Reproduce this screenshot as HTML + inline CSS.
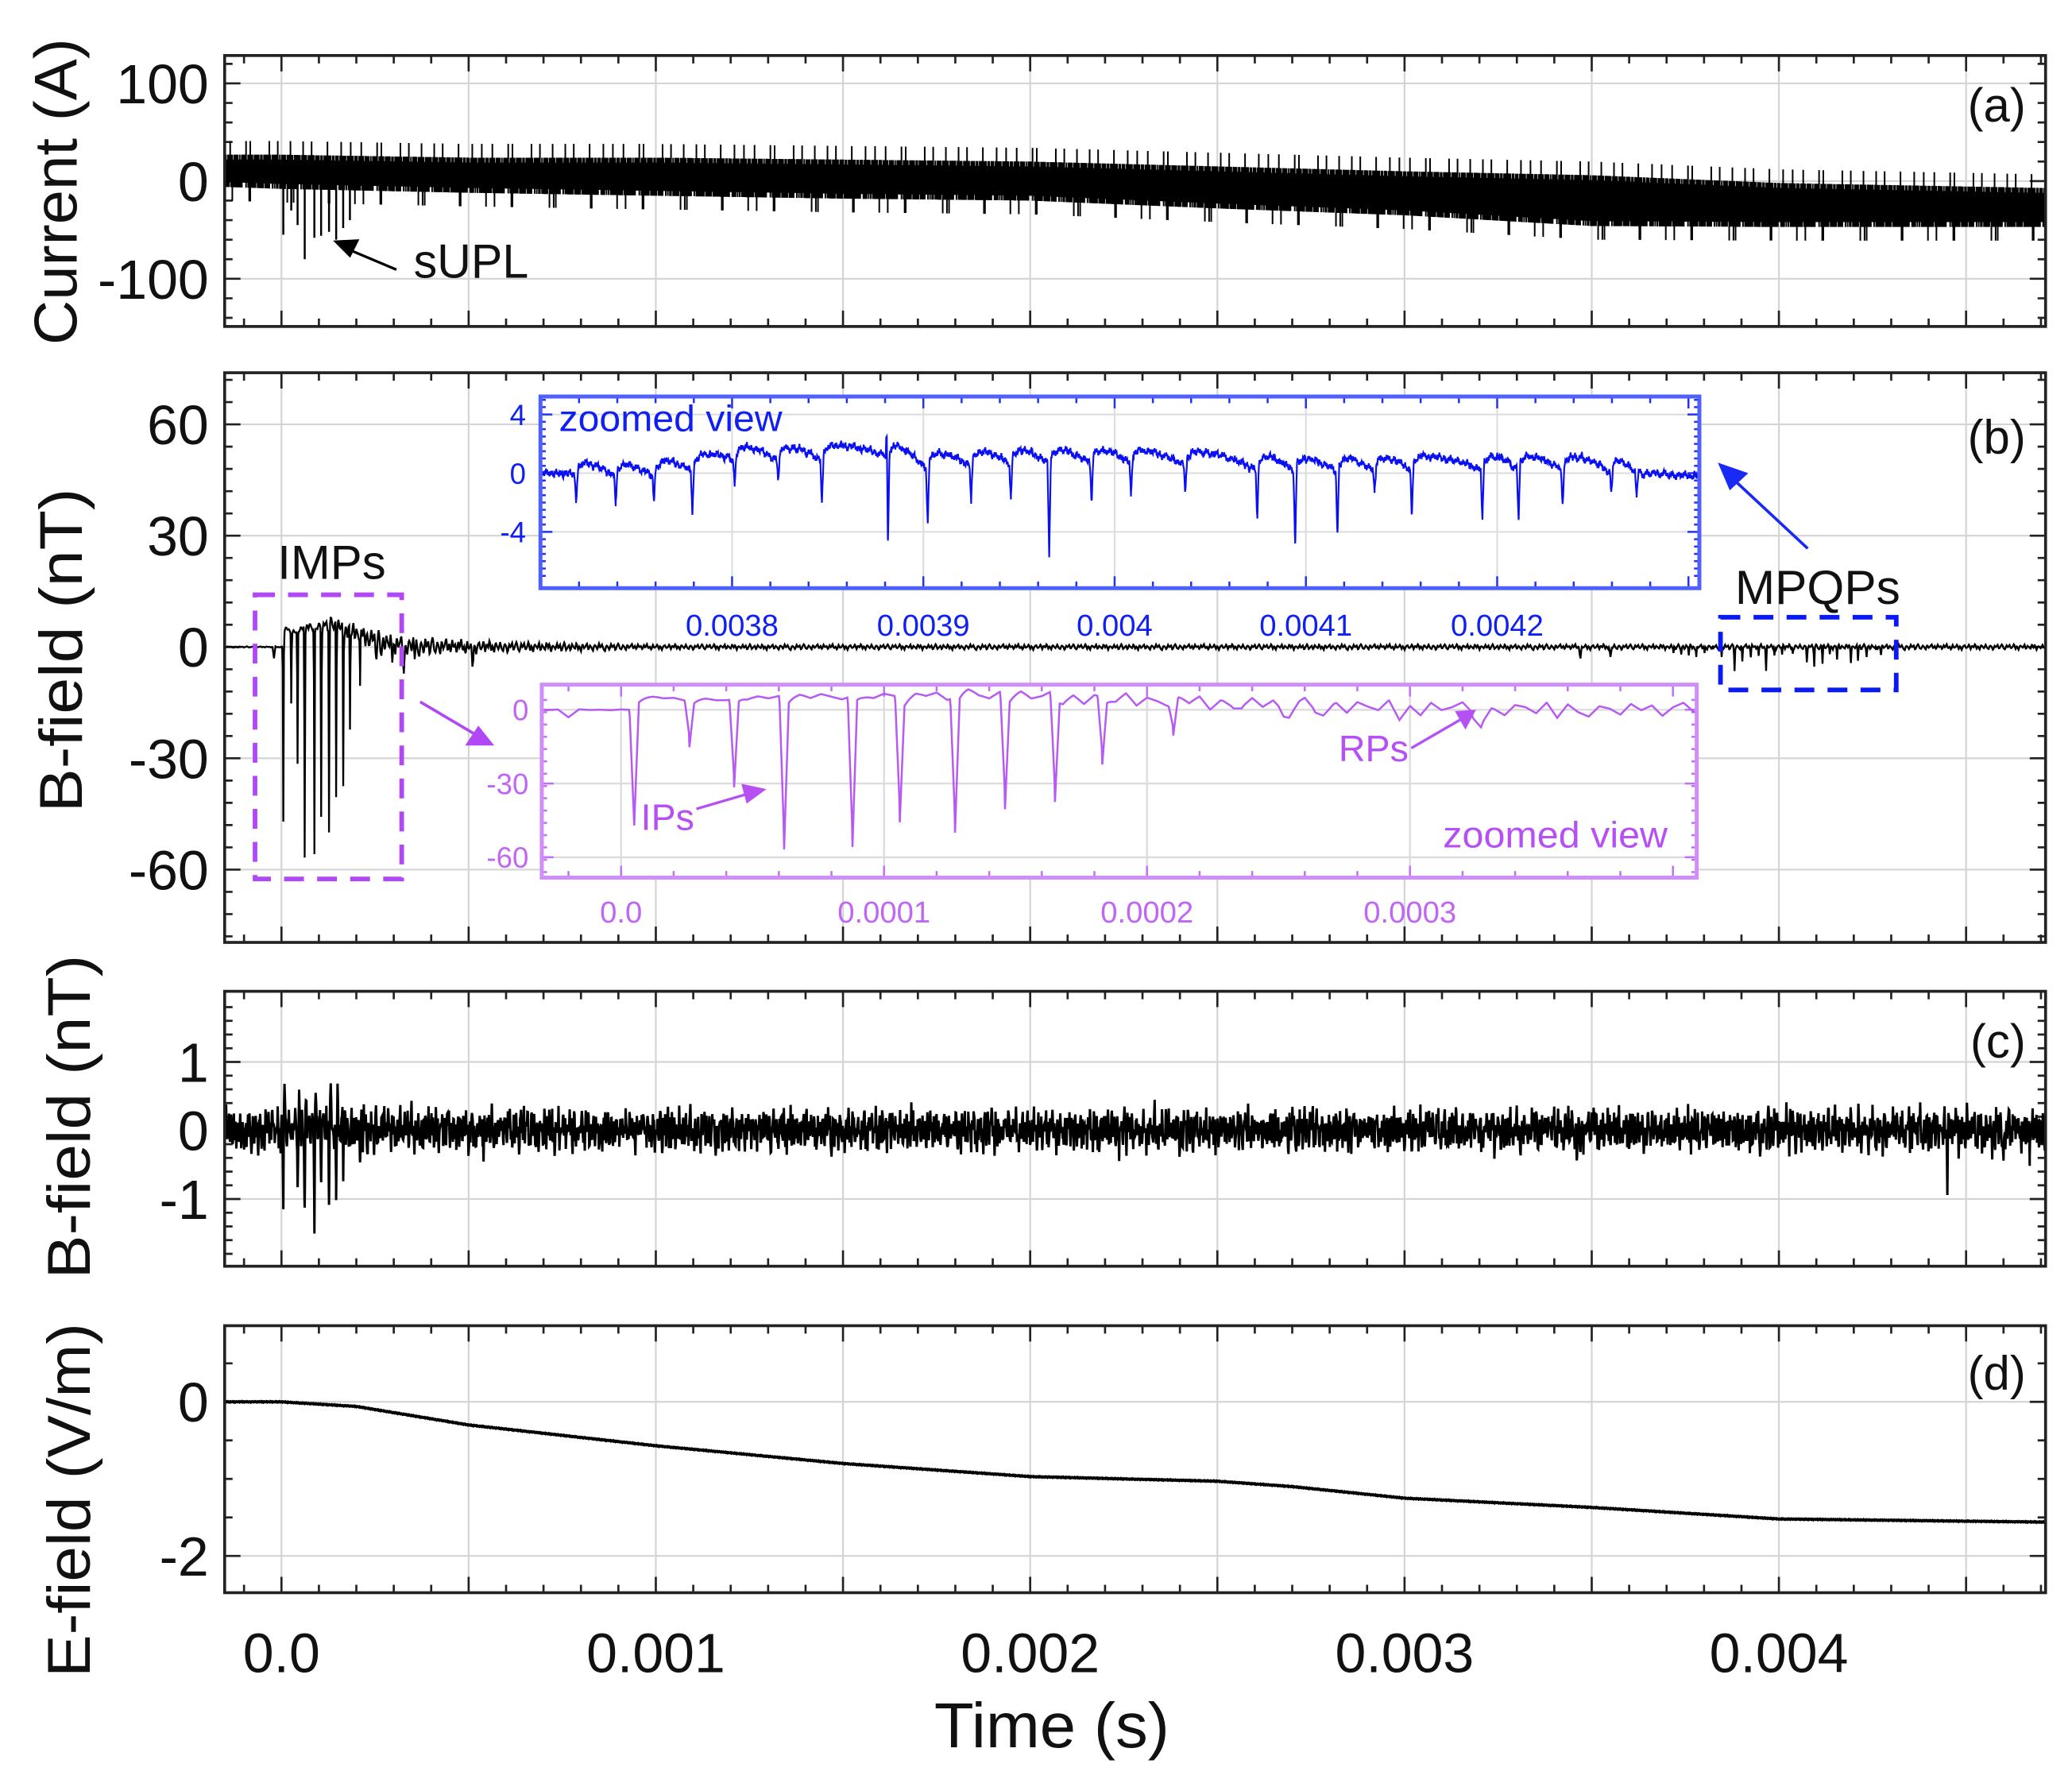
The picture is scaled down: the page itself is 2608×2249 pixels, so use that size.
<!DOCTYPE html>
<html><head><meta charset="utf-8">
<style>
html,body{margin:0;padding:0;background:#fff;}
svg{display:block;}
text{font-family:"Liberation Sans",Arial,sans-serif;}
</style></head>
<body>
<svg id="fig" xmlns="http://www.w3.org/2000/svg" width="2608" height="2249" viewBox="0 0 1568 1352" preserveAspectRatio="none"></svg>
<script>
// ---------------- DATA ----------------
const xTickVals = [0.0, 0.001, 0.002, 0.003, 0.004];
const xTickLabels = ["0.0", "0.001", "0.002", "0.003", "0.004"];
// panel (a) current: core band envelope
const curT  = [-0.00015, 0, 0.0005, 0.001, 0.0015, 0.002, 0.0025, 0.003, 0.0035, 0.004, 0.0047];
const curHi = [27, 27, 24, 24, 22, 20, 15, 10, 6, -2, -7];
const curLo = [-6, -8, -12, -15, -18, -20, -28, -35, -46, -47, -47];
const supT = [0.000005, 0.000026, 0.000043, 0.000062, 0.000088, 0.000106, 0.000127, 0.000146, 0.000165, 0.000183];
const supV = [-55, -30, -45, -80, -58, -56, -52, -60, -48, -40];
// IMP pulses (b) & purple inset
const impT = [0.000005, 0.000026, 0.000043, 0.000062, 0.000088, 0.000106, 0.000127, 0.000146, 0.000165, 0.000183, 0.00021];
const impV = [-47, -15, -32, -57, -57, -45, -50, -41, -39, -23, -11];
const impHump = [6, 5, 6, 7, 7, 7, 8, 7, 6, 5, 4];
// return pulses / small dips
const rpT = [-0.00002, 0.000233, 0.000254, 0.000267, 0.000296, 0.000327, 0.000356, 0.00051, 0.00347, 0.00355];
const rpV = [-3, -2, -4, -3, -3.5, -8, -3, -5.5, -3, -3];
const ringT = [-0.0002, 0, 0.00021, 0.0004, 0.0006, 0.001, 0.0047];
const ringA = [0.2, 0.2, 3.5, 3, 1.8, 0.9, 0.9];
// MPQPs (blue inset)
const blueT = [0.0037185, 0.0037392, 0.0037592, 0.0037793, 0.0038014, 0.0038242, 0.003847, 0.0038815, 0.0039023, 0.003925, 0.0039458, 0.0039658, 0.003988, 0.0040086, 0.004037, 0.0040746, 0.0040944, 0.0041165, 0.0041359, 0.0041554, 0.0041923, 0.0042112, 0.0042343, 0.0042597, 0.0042729];
const blueV = [-1.8, -1.8, -2, -3, -1.8, -1.3, -2.8, -6.1, -4, -2.5, -2.6, -6.3, -2.6, -2.1, -1.8, -3.6, -5.2, -4.5, -1.4, -3.2, -3.6, -3.6, -2.4, -1.5, -1.6];
const blueUpT = [0.0038815];
const blueUpV = [3.4];
const blueBaseT = [0.0037, 0.00375, 0.00378, 0.0038, 0.00385, 0.00388, 0.0039, 0.00395, 0.004, 0.00405, 0.0041, 0.00415, 0.0042, 0.00425, 0.0043];
const blueBaseV = [0, -0.2, 0.3, 1.0, 1.0, 1.3, 0.5, 0.8, 0.8, 0.6, 0.2, 0.3, 0.4, 0.3, -0.2];
// panel (c)
const cImpV = [-1.09, -0.3, -0.79, -1.3, -1.26, -0.6, -1.23, -0.83, -0.4, -0.3, -0.2];
const cDipT = [0.00346, 0.00371, 0.00445, 0.0046, 0.00467];
const cDipV = [-0.6, -0.5, -0.55, -0.65, -0.6];
// panel (d) E-field
const eT = [-0.00015, 0, 0.0002, 0.0005, 0.001, 0.0015, 0.002, 0.0025, 0.0027, 0.003, 0.0035, 0.004, 0.0047];
const eV = [0, 0, -0.06, -0.3, -0.57, -0.8, -0.97, -1.03, -1.1, -1.25, -1.37, -1.52, -1.56];
// measured noise samples
const noise = [0.31,-0.72,0.55,-0.18,0.9,-0.44,0.12,-0.85,0.67,-0.29,0.04,0.78,-0.61,0.35,-0.93,0.22,0.58,-0.37,-0.05,0.81,-0.69,0.43,-0.14,0.96,-0.52,0.27,-0.8,0.63,0.09,-0.41,0.74,-0.23,-0.66,0.48,0.15,-0.97,0.39,-0.08,0.71,-0.56,0.2,0.86,-0.34,-0.75,0.53,-0.11,0.66,-0.47,0.01,0.92,-0.63,0.3,-0.88,0.45,0.17,-0.26,0.79,-0.7,0.36,-0.02,-0.54,0.84,-0.19,0.61,-0.9,0.25,0.07,-0.45,0.69,-0.32,0.5,-0.83,0.13,0.94,-0.6,-0.16,0.41,-0.77,0.57,0.03,-0.38,0.88,-0.5,0.21,-0.95,0.64,-0.27,0.11,0.76,-0.64,0.33,-0.07,-0.86,0.47,0.19,-0.58,0.82,-0.21,0.6,-0.42,-0.99,0.38,0.06,-0.73,0.7,-0.13,0.52,-0.88,0.28,0.91,-0.35,-0.59,0.44,0.02,-0.79,0.62,-0.24,0.16,0.85,-0.48,0.34,-0.66,0.73,-0.1];

// ---------------- HELPERS ----------------
const NS = "http://www.w3.org/2000/svg";
const svg = document.getElementById("fig");
function mk(tag, parent) { const e = document.createElementNS(NS, tag); (parent || svg).appendChild(e); return e; }
function A(e, k, v) { e.setAttribute(k, v); return e; }
const N = noise.length;
function nz(i) { i = Math.abs(Math.floor(i)); return noise[i % N]; }
function nz2(i) { i = Math.abs(Math.floor(i)); return noise[(i * 37 + 11) % N]; }
function smooth(t, step) { const u = t / step + 1000; const k = Math.floor(u); const f = u - k; return nz(k) * (1 - f) + nz(k + 1) * f; }
function interp(xs, ys, x) {
  if (x <= xs[0]) return ys[0];
  for (let i = 1; i < xs.length; i++) if (x <= xs[i]) { const f = (x - xs[i-1]) / (xs[i] - xs[i-1]); return ys[i-1] + f * (ys[i] - ys[i-1]); }
  return ys[ys.length - 1];
}
const X0 = 170, X1 = 1548;
function xs(t) { return 213 + t * 283300; }
const tMin = (X0 - 213) / 283300, tMax = (X1 - 213) / 283300;
const PA = { y0: 42, y1: 247, y: v => 137 - v * 0.739 };
const PB = { y0: 282, y1: 713, y: v => 489.5 - v * 2.807 };
const PC = { y0: 750, y1: 958, y: v => 855.3 - v * 51.85 };
const PD = { y0: 1003, y1: 1205, y: v => 1060.6 - v * 58.3 };
function tri(dt, w) { const a = Math.abs(dt); return a < w ? 1 - a / w : 0; }

// ------------- axes frame / grid / ticks -------------
function panelFrame(P, name, yGrid, yMinor, yMajor) {
  const g = mk("g"); 
  
  
  let d = "";
  for (let t = 0; t <= tMax + 1e-9; t += 0.0005) d += `M${xs(t)},${P.y0}V${P.y1}`;
  yGrid.forEach(v => { d += `M${X0},${P.y(v)}H${X1}`; });
  const grid = A(A(A(A(mk("path", g), "d", d), "stroke", "#d4d4d4"), "stroke-width", 1.3), "fill", "none");
  
  
  let tk = "";
  for (let k = -1; k <= 47; k++) {
    const t = k * 0.0001; if (t < tMin || t > tMax) continue;
    const len = (k % 5 === 0) ? 12 : 6;
    tk += `M${xs(t)},${P.y1}v${-len}M${xs(t)},${P.y0}v${len}`;
  }
  yMinor.forEach(v => { tk += `M${X0},${P.y(v)}h6M${X1},${P.y(v)}h-6`; });
  yMajor.forEach(v => { tk += `M${X0},${P.y(v)}h12M${X1},${P.y(v)}h-12`; });
  const ticks = A(A(A(A(mk("path", g), "d", tk), "stroke", "#222"), "stroke-width", 1.6), "fill", "none");
  
  
  return g;
}
function frameBox(P, name) {
  const r = mk("rect");
  A(r, "x", X0); A(r, "y", P.y0); A(r, "width", X1 - X0); A(r, "height", P.y1 - P.y0);
  A(r, "fill", "none"); A(r, "stroke", "#222"); A(r, "stroke-width", 2.2);
  
  
}
function range(a, b, s) { const r = []; for (let v = a; v <= b + 1e-9; v += s) r.push(+v.toFixed(6)); return r; }
function txt(x, y, s, size, opts) {
  const e = mk("text", opts && opts.parent);
  A(e, "x", x); A(e, "y", y); A(e, "font-size", size);
  A(e, "fill", (opts && opts.fill) || "#111");
  if (opts && opts.anchor) A(e, "text-anchor", opts.anchor);
  if (opts && opts.rot) A(e, "transform", `rotate(-90 ${x} ${y})`);
  if (opts && opts.len) { A(e, "textLength", opts.len); A(e, "lengthAdjust", "spacingAndGlyphs"); }
  e.textContent = s; return e;
}
function pathFrom(pts) { let d = ""; pts.forEach((p, i) => { d += (i ? "L" : "M") + p[0].toFixed(2) + "," + p[1].toFixed(2); }); return d; }

// ---------------- PANEL A ----------------
panelFrame(PA, "current-panel", [100, 0, -100], range(-140, 120, 20), [100, 0, -100]);
{
  let d = "";
  let i = 0;
  for (let x = X0 + 1; x < X1; x += 0.8, i++) {
    const t = (x - 213) / 283300;
    let hi = interp(curT, curHi, t), lo = interp(curT, curLo, t);
    const a = nz(i), b = nz2(i);
    if (a > 0.8) hi += 14; else if (a < -0.6) hi -= 5;
    if (b > 0.82) lo -= 14; else if (b < -0.6) lo += 5;
    d += `M${x.toFixed(1)},${PA.y(hi).toFixed(1)}V${PA.y(lo).toFixed(1)}`;
  }
  const band = A(A(A(A(mk("path"), "d", d), "stroke", "#000"), "stroke-width", 1.2), "fill", "none");
  
  
  let s = "";
  supT.forEach((t, k) => { s += `M${xs(t).toFixed(1)},${PA.y(0)}V${PA.y(supV[k]).toFixed(1)}`; });
  const sp = A(A(A(A(mk("path"), "d", s), "stroke", "#000"), "stroke-width", 1.5), "fill", "none");
  
  
}
frameBox(PA, "current-panel");
[[100, "100"], [0, "0"], [-100, "-100"]].forEach(([v, s]) => {
  const e = txt(158, PA.y(v) + 15, s, 42, { anchor: "end" });
  
  
});
{
  const e = txt(58, 145, "Current (A)", 46, { anchor: "middle", rot: true, len: 232 });
  
  
  const l = txt(1533, 92, "(a)", 36, { anchor: "end" });
  
  
  const su = txt(313, 210, "sUPL", 36, { len: 87 });
  
  
  const ar = A(A(A(mk("path"), "d", "M300,204L262,188"), "stroke", "#000"), "stroke-width", 2);
  
  
  const ah = A(A(mk("path"), "d", "M252,182L272,181L265,195Z"), "fill", "#000");
  
  
}

// ---------------- signals ----------------
function bSignal(t, withBlue) {
  let v = 0;
  for (let i = 0; i < impT.length; i++) {
    const dt = t - impT[i];
    v += impV[i] * tri(dt, 1.8e-6);
    const next = i + 1 < impT.length ? impT[i + 1] : 1;
    if (dt > 0 && t < next) v += impHump[i] * (1 - Math.exp(-dt / 2.5e-6)) * Math.exp(-dt / 6e-5);
  }
  for (let i = 0; i < rpT.length; i++) v += rpV[i] * tri(t - rpT[i], 4e-6);
  v += interp(ringT, ringA, t) * smooth(t, 4e-6);
  if (withBlue) for (let i = 0; i < blueT.length; i++) v += blueV[i] * tri(t - blueT[i], 2e-6);
  return v;
}
function blueSignal(t, i) {
  let v = interp(blueBaseT, blueBaseV, t);
  let prev = null, next = null;
  for (let k = 0; k < blueT.length; k++) { if (blueT[k] <= t) prev = blueT[k]; else { next = blueT[k]; break; } }
  if (prev !== null && next !== null) {
    const dt = t - prev, f = dt / (next - prev);
    v += 0.9 * (1 - Math.exp(-dt / 2e-6)) - 1.1 * f * f;
  }
  for (let k = 0; k < blueT.length; k++) v += blueV[k] * tri(t - blueT[k], 0.9e-6);
  for (let k = 0; k < blueUpT.length; k++) v += blueUpV[k] * tri(t - blueUpT[k] + 0.6e-6, 0.5e-6);
  v += 0.22 * nz(i) + 0.25 * smooth(t, 1.2e-6);
  return v;
}
function cSignal(t, i) {
  let v = 0.34 * smooth(t, 2.5e-6) + 0.14 * nz2(i);
  for (let k = 0; k < impT.length; k++) {
    v += cImpV[k] * tri(t - impT[k], 1.8e-6);
    v += Math.abs(cImpV[k]) * 0.6 * tri(t - impT[k] - 4e-6, 2.5e-6);
  }
  for (let k = 0; k < cDipT.length; k++) v += cDipV[k] * tri(t - cDipT[k], 1.8e-6);
  return v;
}
function sampleTimes(t0, t1, step, extra) {
  const ts = [];
  for (let t = t0; t <= t1; t += step) ts.push(t);
  extra.forEach(t => { if (t > t0 && t < t1) ts.push(t); });
  return ts.sort((a, b) => a - b);
}

// ---------------- PANEL B ----------------
panelFrame(PB, "bfield-panel", [60, 30, 0, -30, -60], range(-78, 72, 6), [60, 30, 0, -30, -60]);
{
  const ts = sampleTimes(tMin, tMax, 1.6e-6, impT.concat(rpT, blueT));
  const pts = ts.map(t => [xs(t), PB.y(bSignal(t, true))]);
  const p = A(A(A(A(mk("path"), "d", pathFrom(pts)), "stroke", "#000"), "stroke-width", 1.4), "fill", "none");
  
  
}
frameBox(PB, "bfield-panel");
[[60, "60"], [30, "30"], [0, "0"], [-30, "-30"], [-60, "-60"]].forEach(([v, s]) => {
  const e = txt(158, PB.y(v) + 15, s, 42, { anchor: "end" });
  
  
});
{
  const e = txt(62, 492, "B-field (nT)", 46, { anchor: "middle", rot: true, len: 245 });
  
  
  const l = txt(1533, 343, "(b)", 36, { anchor: "end" });
  
  
  const imp = txt(210, 438, "IMPs", 36, { len: 82 });
  
  
  const mp = txt(1313, 457, "MPQPs", 36, { len: 125 });
  
  
  const r1 = mk("rect");
  A(r1, "x", 193); A(r1, "y", 450); A(r1, "width", 111); A(r1, "height", 215);
  A(r1, "fill", "none"); A(r1, "stroke", "#b048f5"); A(r1, "stroke-width", 3.5); A(r1, "stroke-dasharray", "15 10");
  
  
  const r2 = mk("rect");
  A(r2, "x", 1302); A(r2, "y", 467); A(r2, "width", 133); A(r2, "height", 55);
  A(r2, "fill", "none"); A(r2, "stroke", "#0a1af5"); A(r2, "stroke-width", 3.5); A(r2, "stroke-dasharray", "15 10");
  
  
  const a1 = A(A(A(mk("path"), "d", "M318,531L362,557"), "stroke", "#b048f5"), "stroke-width", 2.2);
  
  
  const a1h = A(A(mk("path"), "d", "M374,564L352,564L362,549Z"), "fill", "#b048f5");
  
  
  const a2 = A(A(A(mk("path"), "d", "M1368,415L1310,361"), "stroke", "#1a2af5"), "stroke-width", 2.2);
  
  
  const a2h = A(A(mk("path"), "d", "M1300,350L1323,358L1309,371Z"), "fill", "#1a2af5");
  
  
}

// ---------------- BLUE INSET ----------------
const BI = { x0: 409, x1: 1286, y0: 300, y1: 445, x: t => 554 + (t - 0.0038) * 1447500, y: v => 358 - v * 11.1 };
const blueTicks = [0.0038, 0.0039, 0.004, 0.0041, 0.0042];
const blueTickLabels = ["0.0038", "0.0039", "0.004", "0.0041", "0.0042"];
{
  const g = mk("g");
  
  
  const bg = mk("rect", g);
  A(bg, "x", BI.x0); A(bg, "y", BI.y0); A(bg, "width", BI.x1 - BI.x0); A(bg, "height", BI.y1 - BI.y0); A(bg, "fill", "#fff");
  
  
  let gd = "";
  blueTicks.forEach(t => { gd += `M${BI.x(t)},${BI.y0}V${BI.y1}`; });
  [4, 0, -4].forEach(v => { gd += `M${BI.x0},${BI.y(v)}H${BI.x1}`; });
  const gr = A(A(A(mk("path", g), "d", gd), "stroke", "#dcdcdc"), "stroke-width", 1.2);
  
  
  let tk = "";
  for (let k = 0; k < 40; k++) {
    const t = 0.00370 + k * 0.00002; const x = BI.x(t); if (x <= BI.x0 || x >= BI.x1) continue;
    const L = Math.abs((t * 1e4) - Math.round(t * 1e4)) < 1e-6 ? 9 : 5;
    tk += `M${x},${BI.y0}v${L}M${x},${BI.y1}v${-L}`;
  }
  for (let v = -7; v <= 5; v += 0.5) { const L = (v % 4 === 0) ? 9 : 4; tk += `M${BI.x0},${BI.y(v)}h${L}M${BI.x1},${BI.y(v)}h${-L}`; }
  const tt = A(A(A(mk("path", g), "d", tk), "stroke", "#2233ee"), "stroke-width", 1.5);
  
  
  const t0 = 0.0036997, t1 = 0.0043057;
  const ts = sampleTimes(t0, t1, 2.8e-7, blueT.concat(blueUpT.map(t => t - 0.6e-6)));
  const pts = ts.map((t, i) => [BI.x(t), Math.max(BI.y0 + 2, Math.min(BI.y1 - 2, BI.y(blueSignal(t, i))))]);
  const line = A(A(A(A(mk("path", g), "d", pathFrom(pts)), "stroke", "#0a10f0"), "stroke-width", 1.3), "fill", "none");
  
  
  const fr = mk("rect", g);
  A(fr, "x", BI.x0); A(fr, "y", BI.y0); A(fr, "width", BI.x1 - BI.x0); A(fr, "height", BI.y1 - BI.y0);
  A(fr, "fill", "none"); A(fr, "stroke", "#5060ff"); A(fr, "stroke-width", 3);
  
  
  blueTicks.forEach((t, k) => {
    const e = txt(BI.x(t), 481, blueTickLabels[k], 23, { anchor: "middle", fill: "#1020f0", parent: g });
    
    
  });
  [[4, "4"], [0, "0"], [-4, "-4"]].forEach(([v, s]) => {
    const e = txt(398, BI.y(v) + 8, s, 22, { anchor: "end", fill: "#1020f0", parent: g });
    
    
  });
  const zt = txt(423, 326, "zoomed view", 28, { fill: "#1020f0", parent: g, len: 169 });
  
  
}

// ---------------- PURPLE INSET ----------------
const PI = { x0: 410, x1: 1284, y0: 518, y1: 664, x: t => 470 + t * 1990000, y: v => 537 - v * 1.86 };
const purpleTicks = [0, 0.0001, 0.0002, 0.0003];
const purpleTickLabels = ["0.0", "0.0001", "0.0002", "0.0003"];
{
  const g = mk("g");
  
  
  const bg = mk("rect", g);
  A(bg, "x", PI.x0); A(bg, "y", PI.y0); A(bg, "width", PI.x1 - PI.x0); A(bg, "height", PI.y1 - PI.y0); A(bg, "fill", "#fff");
  
  
  let gd = "";
  purpleTicks.forEach(t => { gd += `M${PI.x(t)},${PI.y0}V${PI.y1}`; });
  [0, -30, -60].forEach(v => { gd += `M${PI.x0},${PI.y(v)}H${PI.x1}`; });
  const gr = A(A(A(mk("path", g), "d", gd), "stroke", "#dcdcdc"), "stroke-width", 1.4);
  
  
  let tk = "";
  for (let k = -2; k < 22; k++) {
    const t = k * 0.00002; const x = PI.x(t); if (x <= PI.x0 || x >= PI.x1) continue;
    const L = (k % 5 === 0) ? 9 : 5;
    tk += `M${x},${PI.y0}v${L}M${x},${PI.y1}v${-L}`;
  }
  for (let v = -66; v <= 8; v += 5) tk += `M${PI.x0},${PI.y(v)}h4M${PI.x1},${PI.y(v)}h-4`;
  [0, -30, -60].forEach(v => { tk += `M${PI.x0},${PI.y(v)}h9M${PI.x1},${PI.y(v)}h-9`; });
  const tt = A(A(A(mk("path", g), "d", tk), "stroke", "#c070f5"), "stroke-width", 1.5);
  
  
  const t0 = -0.0000302, t1 = 0.000409;
  const ts = sampleTimes(t0, t1, 2.5e-7, impT.concat(rpT));
  const pts = ts.map(t => [PI.x(t), PI.y(bSignal(t, false))]);
  const line = A(A(A(A(mk("path", g), "d", pathFrom(pts)), "stroke", "#b65af2"), "stroke-width", 1.5), "fill", "none");
  
  
  const fr = mk("rect", g);
  A(fr, "x", PI.x0); A(fr, "y", PI.y0); A(fr, "width", PI.x1 - PI.x0); A(fr, "height", PI.y1 - PI.y0);
  A(fr, "fill", "none"); A(fr, "stroke", "#d08ef8"); A(fr, "stroke-width", 3);
  
  
  purpleTicks.forEach((t, k) => {
    const e = txt(PI.x(t), 698, purpleTickLabels[k], 23, { anchor: "middle", fill: "#c066f5", parent: g });
    
    
  });
  [[0, "0"], [-30, "-30"], [-60, "-60"]].forEach(([v, s]) => {
    const e = txt(400, PI.y(v) + 8, s, 22, { anchor: "end", fill: "#c066f5", parent: g });
    
    
  });
  const zt = txt(1262, 641, "zoomed view", 28, { anchor: "end", fill: "#b650f5", parent: g, len: 170 });
  
  
  const ips = txt(485, 628, "IPs", 28, { fill: "#b650f5", parent: g });
  
  
  const rps = txt(1013, 576, "RPs", 28, { fill: "#b650f5", parent: g });
  
  
  const a1 = A(A(A(mk("path", g), "d", "M527,612L568,600"), "stroke", "#b650f5"), "stroke-width", 2);
  
  
  const a1h = A(A(mk("path", g), "d", "M580,597L561,593L565,608Z"), "fill", "#b650f5");
  
  
  const a2 = A(A(A(mk("path", g), "d", "M1068,566L1106,544"), "stroke", "#b650f5"), "stroke-width", 2);
  
  
  const a2h = A(A(mk("path", g), "d", "M1117,537L1101,538L1109,552Z"), "fill", "#b650f5");
  
  
}

// ---------------- PANEL C ----------------
panelFrame(PC, "bfield2-panel", [1, 0, -1], range(-1.8, 1.8, 0.2), [1, 0, -1]);
{
  const ts = sampleTimes(tMin, tMax, 1.3e-6, impT.concat(cDipT));
  const pts = ts.map((t, i) => [xs(t), PC.y(cSignal(t, i))]);
  const p = A(A(A(A(mk("path"), "d", pathFrom(pts)), "stroke", "#000"), "stroke-width", 1.8), "fill", "none");
  
  
}
frameBox(PC, "bfield2-panel");
[[1, "1"], [0, "0"], [-1, "-1"]].forEach(([v, s]) => {
  const e = txt(158, PC.y(v) + 15, s, 42, { anchor: "end" });
  
  
});
{
  const e = txt(68, 845, "B-field (nT)", 46, { anchor: "middle", rot: true, len: 245 });
  
  
  const l = txt(1533, 800, "(c)", 36, { anchor: "end" });
  
  
}

// ---------------- PANEL D ----------------
panelFrame(PD, "efield-panel", [0, -2], [0.5, -0.5, -1, -1.5], [0, -2]);
{
  const pts = [];
  let i = 0;
  for (let t = tMin; t <= tMax; t += 2e-6, i++) pts.push([xs(t), PD.y(interp(eT, eV, t) + 0.006 * nz(i))]);
  const p = A(A(A(A(mk("path"), "d", pathFrom(pts)), "stroke", "#000"), "stroke-width", 2.2), "fill", "none");
  
  
}
frameBox(PD, "efield-panel");
[[0, "0"], [-2, "-2"]].forEach(([v, s]) => {
  const e = txt(158, PD.y(v) + 15, s, 42, { anchor: "end" });
  
  
});
{
  const e = txt(68, 1135, "E-field (V/m)", 46, { anchor: "middle", rot: true, len: 268 });
  
  
  const l = txt(1533, 1051, "(d)", 36, { anchor: "end" });
  
  
}
xTickVals.forEach((t, k) => {
  const e = txt(xs(t), 1265, xTickLabels[k], 42, { anchor: "middle" });
  
  
});
{
  const e = txt(796, 1322, "Time (s)", 48, { anchor: "middle", len: 178 });
  
  
}
</script>
</body></html>
